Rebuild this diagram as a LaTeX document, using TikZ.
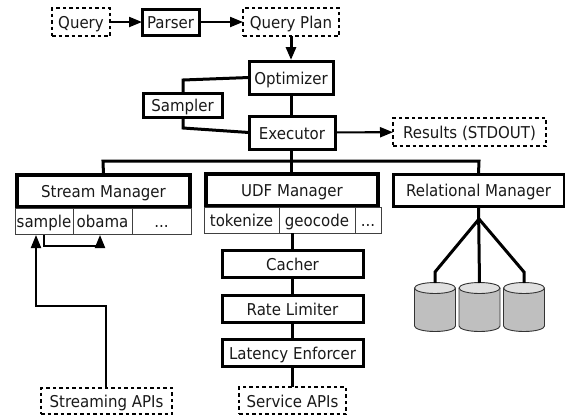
\documentclass[tikz,border=0pt]{standalone}
\usepackage{fontspec}
\setmainfont[FakeStretch=0.92]{DejaVu Sans}
\usetikzlibrary{arrows.meta,calc}
\tikzset{
 every node/.style={font=\fontsize{16.3}{18}\selectfont,inner sep=0pt,outer sep=0pt,text=black!90,text height=14.5pt,text depth=1pt},
 solidbox/.style={draw,line width=3pt,rectangle},
 heavybox/.style={draw,line width=4pt,rectangle},
 dashbox/.style={draw,line width=1.6pt,rectangle,dash pattern=on 3.5pt off 3pt},
 cellbox/.style={draw=black!75,line width=0.8pt,rectangle,fill=white},
 link/.style={line width=3pt},
 thinlink/.style={line width=2.1pt},
 tip/.style={-{Triangle[length=13pt,width=10pt]}},
 diskbody/.style={draw=black!80,line width=0.9pt,fill=black!25},
 disktop/.style={draw=black!80,line width=0.9pt,fill=black!12}
}
\newcommand{\bx}[7][]{\node[#2,minimum width=#5pt-#4pt,minimum height=#7pt-#6pt,#1] (#3) at ({(#4+#5)/2},{(#6+#7)/2}) {\BXT};}
\newcommand{\dsk}[2]{%
 \coordinate (#1) at (#2,283);
 \draw[diskbody] (#2-20.5,288) -- (#2-20.5,326) arc[start angle=180,end angle=360,x radius=20.5,y radius=-5.5] -- (#2+20.5,288);
 \draw[disktop] (#2,288) ellipse[x radius=20.5,y radius=5.5];}
\begin{document}
\begin{tikzpicture}[x=1pt,y=-1pt]
\useasboundingbox (0,0) rectangle (565,416);
\def\BXT{Query}\bx{dashbox}{q}{52}{110}{8}{36}
\def\BXT{Parser}\bx{solidbox}{p}{142}{199}{9}{35}
\def\BXT{Query Plan}\bx{dashbox}{qp}{243}{339}{8}{36}
\def\BXT{Optimizer}\bx{solidbox}{o}{249}{333}{61}{94}
\def\BXT{Sampler}\bx{solidbox}{s}{143}{222}{93}{117}
\def\BXT{Executor}\bx{solidbox}{e}{249}{335}{116}{149}
\def\BXT{Results (STDOUT)}\bx{dashbox}{r}{393}{546}{118}{146}
\def\BXT{Stream Manager}\bx{heavybox}{sm}{17}{190}{175}{207}
\def\BXT{sample}\bx{cellbox}{c1}{15}{73}{208}{234}
\def\BXT{obama}\bx{cellbox}{c2}{73}{132}{208}{234}
\def\BXT{...}\bx{cellbox}{c3}{132}{191}{208}{234}
\def\BXT{UDF Manager}\bx{heavybox}{um}{206}{378}{174}{206}
\def\BXT{tokenize}\bx{cellbox}{u1}{204}{279}{207}{233}
\def\BXT{geocode}\bx{cellbox}{u2}{279}{355}{207}{233}
\def\BXT{...}\bx{cellbox}{u3}{355}{381}{207}{233}
\def\BXT{Relational Manager}\bx{solidbox}{rm}{393}{564}{174}{206}
\def\BXT{Cacher}\bx{solidbox}{ca}{222}{363}{250}{277}
\def\BXT{Rate Limiter}\bx{solidbox}{rl}{222}{363}{295}{322}
\def\BXT{Latency Enforcer}\bx{solidbox}{le}{222}{363}{339}{366}
\def\BXT{Service APIs}\bx{dashbox}{sa}{239}{346}{387}{414}
\def\BXT{Streaming APIs}\bx{dashbox}{st}{41}{172}{388}{414}
\dsk{d1}{435}
\dsk{d2}{479.5}
\dsk{d3}{524}
\coordinate (busl) at (103,161);
\coordinate (busr) at (479,161);
\coordinate (j) at (479,219);
\draw[thinlink,tip] (q) -- (p);
\draw[thinlink,tip] (p) -- (qp.west);
\draw[link,tip] (291,36) -- (291,60);
\draw[link] (291,94) -- (291,116);
\draw[link] (o.west) -- (183,80) -- (183,93);
\draw[link] (183,117) -- (183,128) -- (e.west);
\draw[thinlink,tip] (e) -- (r);
\draw[link] (291,149) -- (291,174);
\draw[link] (sm.north) -- (busl) -- (busr) -- (rm.north);
\draw[link] (292,233) -- (292,250);
\draw[link] (ca) -- (rl);
\draw[link] (rl) -- (le);
\draw[link] (le) -- (sa);
\draw[link] (rm.south) -- (d2);
\draw[link] (j) -- (435,272) -- (d1);
\draw[link] (j) -- (524,272) -- (d3);
\draw[thinlink,tip] (106,388) -- (106,306) -- (36,306) -- (36,235);
\draw[thinlink,tip] (44,235) -- (44,246) -- (100,246) -- (100,235);
\end{tikzpicture}
\end{document}
